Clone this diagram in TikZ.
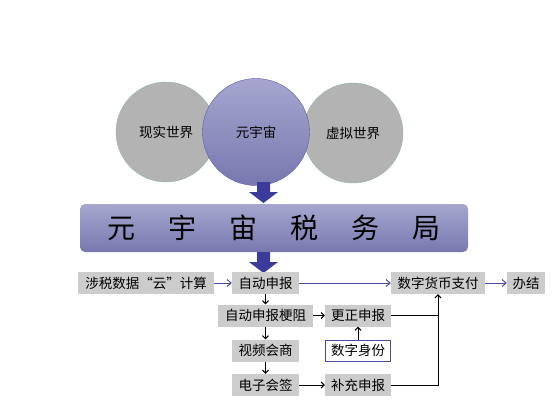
\documentclass[tikz,border=0pt]{standalone}
\usepackage{fontspec}
\setmainfont{Noto Sans CJK SC}
\usetikzlibrary{arrows.meta}

\definecolor{worldgray}{HTML}{B3B3B3}
\definecolor{worldedge}{HTML}{93B3AD}
\definecolor{metatop}{HTML}{A6A6CF}
\definecolor{metabot}{HTML}{7878B0}
\definecolor{metaedge}{HTML}{5A5AA2}
\definecolor{boxgray}{HTML}{CCCCCC}
\definecolor{flowblue}{HTML}{4B4BA8}
\definecolor{bigarrow}{HTML}{3B3B9B}

\tikzset{
  world/.style={circle,fill=worldgray,draw=worldedge,minimum size=100pt,inner sep=0pt,font=\fontsize{13.5}{15}\selectfont},
  meta/.style={circle,top color=metatop,bottom color=metabot,draw=metaedge,minimum size=107pt,inner sep=0pt,font=\fontsize{13.5}{15}\selectfont},
  bureau/.style={rounded corners=5pt,top color=metatop,bottom color=metabot,minimum width=388pt,minimum height=48pt,inner sep=0pt,font=\fontsize{28}{30}\selectfont},
  gbox/.style={fill=boxgray,minimum height=22pt,inner sep=0pt,font=\fontsize{13.5}{15}\selectfont},
  idbox/.style={gbox,fill=white,draw=flowblue,thick},
  flow/.style={-{Straight Barb[length=4pt,width=7pt]},flowblue,line width=1pt},
  blackflow/.style={-{Straight Barb[length=3pt,width=6pt]},black,line width=1pt},
  joinline/.style={black,line width=1pt}
}

\begin{document}
\begin{tikzpicture}[x=1pt,y=-1pt]
\useasboundingbox (0,0) rectangle (553,415);

% three worlds
\node[world] (real) at (166,132) {现实世界};
\node[world] (virtual) at (353,133) {虚拟世界};
\node[meta] (meta) at (256,132) {元宇宙};

\fill[bigarrow] (257,182) -- (270,182) -- (270,192) -- (278,192) -- (263.5,203) -- (249,192) -- (257,192) -- cycle;

\node[bureau] (bureau) at (274,228) {元\hspace{33pt}宇\hspace{33pt}宙\hspace{33pt}税\hspace{33pt}务\hspace{33pt}局};

\fill[bigarrow] (257,252) -- (270,252) -- (270,262) -- (278,262) -- (263.5,273) -- (249,262) -- (257,262) -- cycle;

% boxes
\node[gbox,minimum width=136pt] (cloud) at (146,283) {涉税数据“云”计算};
\node[gbox,minimum width=67pt] (auto) at (265.5,283) {自动申报};
\node[gbox,minimum width=94pt] (pay) at (438,283) {数字货币支付};
\node[gbox,minimum width=38pt] (done) at (526,283) {办结};

\node[gbox,minimum width=95pt] (block) at (265.5,315.5) {自动申报梗阻};
\node[gbox,minimum width=66pt] (fix) at (358,315.5) {更正申报};
\node[gbox,minimum width=67pt] (video) at (265.5,350.5) {视频会商};
\node[idbox,minimum width=65pt,minimum height=21pt] (id) at (358,350.5) {数字身份};
\node[gbox,minimum width=67pt] (sign) at (265.5,385) {电子会签};
\node[gbox,minimum width=66pt] (supp) at (358,385) {补充申报};

\draw[flow] (cloud) -- (auto);
\draw[flow] (auto) -- (pay);
\draw[flow] (pay) -- (done);

\draw[blackflow] (auto) -- (block);
\draw[blackflow] (block) -- (fix);
\draw[blackflow] (block) -- (video);
\draw[blackflow] (video) -- (sign);
\draw[blackflow] (sign) -- (supp);
\draw[blackflow] (id) -- (fix);

\draw[joinline] (fix.east) -- (fix.east -| pay.south);
\draw[blackflow] (supp.east) -| (pay.south);
\end{tikzpicture}
\end{document}
